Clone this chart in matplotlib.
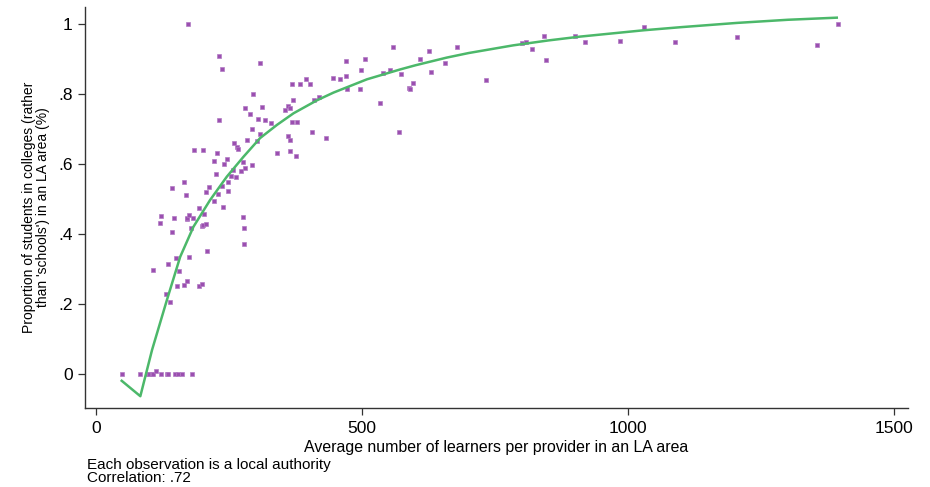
import matplotlib
matplotlib.use('Agg')
from matplotlib import pyplot as plt
from matplotlib.ticker import FixedLocator

plt.rcParams['font.family'] = ['Liberation Sans', 'DejaVu Sans']

# learners per provider (x) and share of students in colleges (y), one per LA
learners = [48, 83, 95, 100, 104, 107, 112, 121, 133, 135, 148, 154, 162, 180,
            107, 132, 139, 152.8, 165.4, 169.8, 194.2, 198, 155.4, 134.8, 149.8,
            174.8, 208, 142.9, 278.2, 278.2, 276.3, 179.1, 199.2, 200.5, 206.2,
            120.3, 122, 146.6, 171, 171.6, 175.4, 181.7, 203.6, 193, 239.3,
            221.2, 228.7, 248, 206.2, 212.4, 237.4, 169.2, 143.4, 165.4, 248,
            261.9, 253.4, 224.3, 257, 272, 280.6, 292, 276.3, 240.6, 246.2,
            221.8, 183, 201.7, 227.4, 258.8, 264.4, 267, 283, 302, 340, 364.7,
            365, 376.5,
            231.8, 236.2, 308, 557.6, 505.6, 470.5, 497.5, 538.2, 551.4, 469.9,
            458.6, 446, 394, 383.5, 369, 402.8, 471.2, 496, 295.1, 417.9, 408.5,
            370.3, 361, 363.4, 354.7, 279.5, 311.5, 288.3, 231.8, 303.9, 317,
            328.9, 368.4, 377.2, 533.3, 292.7, 405.4, 569, 308.8, 361, 432.3,
            624.7, 677.9, 609.6, 655.4, 629.7, 573.3, 595.1, 587.1, 589.7, 733,
            800.8, 808.3, 818.3, 842, 845.3, 900.4, 918.6,
            984.3, 1029, 1087.7, 1203.6, 1355, 1393.4, 173.5]
share = [0, 0, 0, 0, 0, 0, 0.01, 0, 0, 0, 0, 0, 0, 0,
         0.299, 0.230, 0.206, 0.253, 0.255, 0.267, 0.254, 0.257, 0.296, 0.315, 0.333,
         0.336, 0.354, 0.406, 0.374, 0.419, 0.449, 0.418, 0.424, 0.428, 0.430,
         0.432, 0.452, 0.448, 0.443, 0.448, 0.455, 0.447, 0.458, 0.475, 0.477,
         0.495, 0.515, 0.524, 0.522, 0.535, 0.538, 0.513, 0.534, 0.549, 0.550,
         0.563, 0.567, 0.572, 0.585, 0.582, 0.589, 0.597, 0.607, 0.601, 0.614,
         0.611, 0.640, 0.641, 0.633, 0.662, 0.650, 0.645, 0.669, 0.667, 0.633, 0.669,
         0.639, 0.624,
         0.910, 0.872, 0.890, 0.934, 0.901, 0.895, 0.869, 0.860, 0.869, 0.852,
         0.843, 0.846, 0.845, 0.831, 0.829, 0.829, 0.814, 0.814, 0.800, 0.793, 0.784,
         0.784, 0.767, 0.761, 0.756, 0.762, 0.765, 0.743, 0.727, 0.729, 0.727,
         0.719, 0.721, 0.721, 0.774, 0.702, 0.693, 0.693, 0.686, 0.681, 0.676,
         0.925, 0.936, 0.900, 0.889, 0.864, 0.857, 0.833, 0.818, 0.814, 0.841,
         0.946, 0.949, 0.930, 0.968, 0.898, 0.967, 0.949,
         0.951, 0.991, 0.949, 0.963, 0.941, 1.0, 1.0]

# fitted values
fit_x = [48, 83, 105, 132.8, 157.9, 182.9, 214, 245.6, 277, 308, 340, 371, 415,
         446, 509, 571, 600, 659, 700, 784, 850, 910, 1029, 1100, 1204, 1300, 1392]
fit_y = [-0.018, -0.062, 0.07, 0.212, 0.336, 0.422, 0.498, 0.565, 0.622, 0.675,
         0.713, 0.746, 0.783, 0.805, 0.843, 0.871, 0.883, 0.905, 0.918, 0.940,
         0.954, 0.965, 0.983, 0.992, 1.004, 1.013, 1.019]

x_ticks = [0, 500, 1000, 1500]
y_ticks = [0, 0.2, 0.4, 0.6, 0.8, 1.0]
y_tick_labels = ['0', '.2', '.4', '.6', '.8', '1']

fig = plt.figure(figsize=(9.3, 4.87), dpi=100)
ax = fig.add_axes([0.0914, 0.162, 0.885, 0.824])

ax.plot(learners, share, 's', ms=2.7, color='#9b4fb0', mec='#b27cc4', mew=0.5, zorder=2)
ax.plot(fit_x, fit_y, '-', color='#4cb86a', lw=1.8, zorder=3)

ax.set_xlim(-21, 1526)
ax.set_ylim(-0.096, 1.05)
ax.xaxis.set_major_locator(FixedLocator(x_ticks))
ax.set_yticks(y_ticks)
ax.set_yticklabels(y_tick_labels)

for side in ['top', 'right']:
    ax.spines[side].set_visible(False)
for side in ['left', 'bottom']:
    ax.spines[side].set_color('#333333')
    ax.spines[side].set_linewidth(1.0)
ax.tick_params(axis='both', direction='out', length=5, width=0.9, color='#333333',
               labelsize=12.5, pad=4)

ax.set_xlabel('Average number of learners per provider in an LA area', fontsize=11.4, labelpad=3)
ax.set_ylabel("Proportion of students in colleges (rather\nthan 'schools') in an LA area (%)",
              fontsize=10, labelpad=6, linespacing=1.0)

fig.text(0.094, 0.004, 'Each observation is a local authority\nCorrelation: .72',
         fontsize=11, linespacing=0.92, va='bottom', ha='left')

plt.savefig('out.png', dpi=100)
